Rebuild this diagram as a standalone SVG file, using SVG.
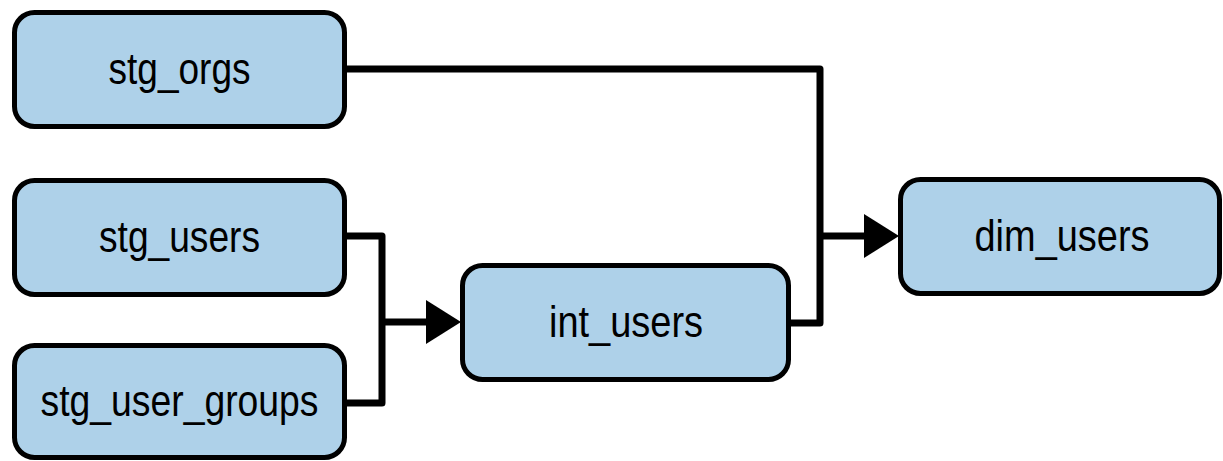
<svg xmlns="http://www.w3.org/2000/svg" width="1223" height="461" viewBox="0 0 1223 461">
<style>
.box{fill:#aed1e9;stroke:#000;stroke-width:5}
.lbl{font-family:"Liberation Sans",Arial,sans-serif;font-size:45px;fill:#000;text-anchor:middle}
.wire{fill:none;stroke:#000;stroke-width:7;stroke-linejoin:round}
.head{fill:#000}
</style>
<g id="connectors">
<path class="wire" d="M345,69 H820 V323 H787"/>
<path class="wire" d="M820,236 H870"/>
<polygon class="head" points="864,214 899,236 864,258"/>
<path class="wire" d="M345,236 H382 V403 H345"/>
<path class="wire" d="M382,322 H432"/>
<polygon class="head" points="426,300 461,322 426,344"/>
</g>
<g id="stg_orgs">
<rect class="box" x="14.5" y="12.5" width="330" height="114" rx="20"/>
<text class="lbl" x="179.5" y="84" textLength="142" lengthAdjust="spacingAndGlyphs">stg_orgs</text>
</g>
<g id="stg_users">
<rect class="box" x="14.5" y="180.5" width="330" height="114" rx="20"/>
<text class="lbl" x="179.5" y="252" textLength="161" lengthAdjust="spacingAndGlyphs">stg_users</text>
</g>
<g id="stg_user_groups">
<rect class="box" x="14.5" y="345.5" width="330" height="112" rx="20"/>
<text class="lbl" x="179.5" y="416" textLength="278" lengthAdjust="spacingAndGlyphs">stg_user_groups</text>
</g>
<g id="int_users">
<rect class="box" x="462.5" y="265.5" width="326" height="114" rx="20"/>
<text class="lbl" x="626" y="337" textLength="154" lengthAdjust="spacingAndGlyphs">int_users</text>
</g>
<g id="dim_users">
<rect class="box" x="900.5" y="179.5" width="319" height="114" rx="20"/>
<text class="lbl" x="1062" y="251" textLength="175" lengthAdjust="spacingAndGlyphs">dim_users</text>
</g>
</svg>
